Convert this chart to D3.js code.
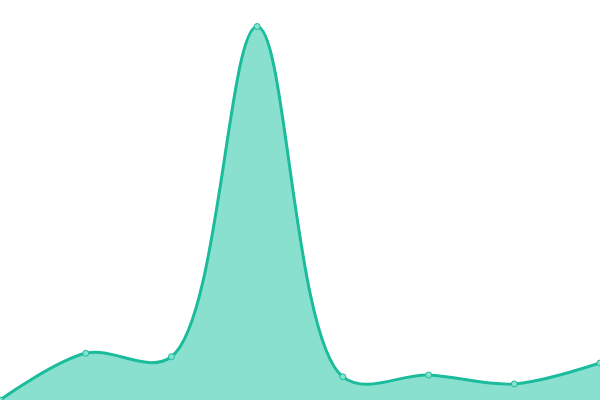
<!DOCTYPE html>
<html>
<head>
<meta charset="utf-8">
<script src="https://cdn.jsdelivr.net/npm/d3@7"></script>
<style>
    body { margin: 0; background: #fff; }
    svg { display: block; }
</style>
</head>
<body>
<div id="chart"></div>
<script>
const labels = ["1", "2", "3", "4", "5", "6", "7", "8"];
const values = [0, 12.5, 11.6, 100, 6.2, 6.7, 4.3, 9.9];

const width = 600, height = 400;

const x = d3.scalePoint()
    .domain(labels)
    .range([0, width]);

const y = d3.scaleLinear()
    .domain([0, 100])
    .range([height, 26.5]);

const svg = d3.select("#chart").append("svg")
    .attr("width", width)
    .attr("height", height);

const data = labels.map((l, i) => ({ label: l, value: values[i] }));

const curve = d3.curveCatmullRom.alpha(0.5);

const area = d3.area()
    .x(d => x(d.label))
    .y0(height)
    .y1(d => y(d.value))
    .curve(curve);

const line = d3.line()
    .x(d => x(d.label))
    .y(d => y(d.value))
    .curve(curve);

svg.append("path")
    .datum(data)
    .attr("d", area)
    .attr("fill", "#8ae0ce");

svg.append("path")
    .datum(data)
    .attr("d", line)
    .attr("fill", "none")
    .attr("stroke", "#1abc9c")
    .attr("stroke-width", 3);

svg.append("g")
    .selectAll("circle")
    .data(data)
    .join("circle")
    .attr("cx", d => x(d.label))
    .attr("cy", d => y(d.value))
    .attr("r", 3)
    .attr("fill", "#8ae0ce")
    .attr("stroke", "#1abc9c")
    .attr("stroke-width", 1);
</script>
</body>
</html>
